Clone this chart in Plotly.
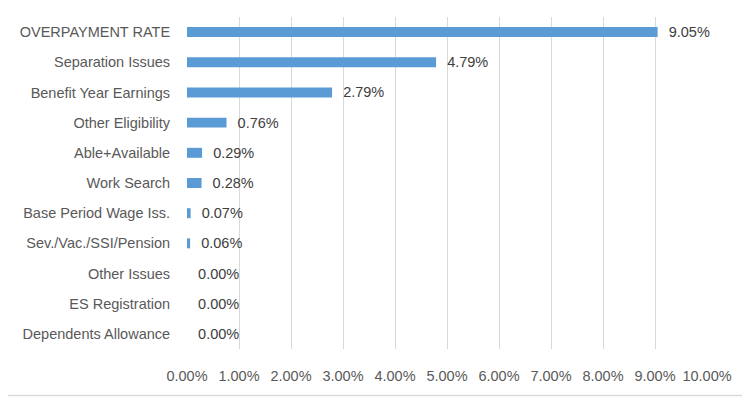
import plotly.graph_objects as go

categories = ["OVERPAYMENT RATE", "Separation Issues", "Benefit Year Earnings",
              "Other Eligibility", "Able+Available", "Work Search",
              "Base Period Wage Iss.", "Sev./Vac./SSI/Pension", "Other Issues",
              "ES Registration", "Dependents Allowance"]
values = [9.05, 4.79, 2.79, 0.76, 0.29, 0.28, 0.07, 0.06, 0.00, 0.00, 0.00]
tick_vals = [0, 1, 2, 3, 4, 5, 6, 7, 8, 9, 10]
tick_text = ["0.00%", "1.00%", "2.00%", "3.00%", "4.00%", "5.00%",
             "6.00%", "7.00%", "8.00%", "9.00%", "10.00%"]

FONT = "Liberation Sans, Arial, sans-serif"

fig = go.Figure()
fig.add_trace(go.Bar(
    y=categories, x=values, orientation="h",
    marker=dict(color="#5b9bd5", line=dict(width=0)),
    text=["  %.2f%%" % v for v in values],
    textposition="outside",
    constraintext="none",
    textfont=dict(color="#404040", size=14.5, family=FONT),
    cliponaxis=False,
))
# page body has an 8px margin, so the figure is offset by 8px; compensate
fig.update_layout(
    width=742, height=389,
    margin=dict(l=179, r=43, t=9, b=48),
    paper_bgcolor="white", plot_bgcolor="white",
    bargap=0.67,
    showlegend=False,
    font=dict(family=FONT, size=14.5, color="#595959"),
    xaxis=dict(range=[0, 10], tickvals=tick_vals, ticktext=tick_text,
               showgrid=True, gridcolor="#d9d9d9", gridwidth=1,
               zeroline=False, showline=False,
               ticks="outside", ticklen=14, tickcolor="rgba(0,0,0,0)",
               automargin=False,
               tickfont=dict(size=14.5, color="#595959")),
    yaxis=dict(categoryorder="array", categoryarray=categories[::-1],
               showgrid=False, zeroline=False, showline=False,
               ticks="outside", ticklen=13, tickcolor="rgba(0,0,0,0)",
               automargin=False,
               tickfont=dict(size=14.5, color="#595959")),
    shapes=[dict(type="line", xref="paper", yref="paper", x0=-0.4, x1=1.2,
                 y0=-46.5 / 332, y1=-46.5 / 332,
                 line=dict(color="#d9d9d9", width=1.5))],
)
fig.write_html("out.html")
